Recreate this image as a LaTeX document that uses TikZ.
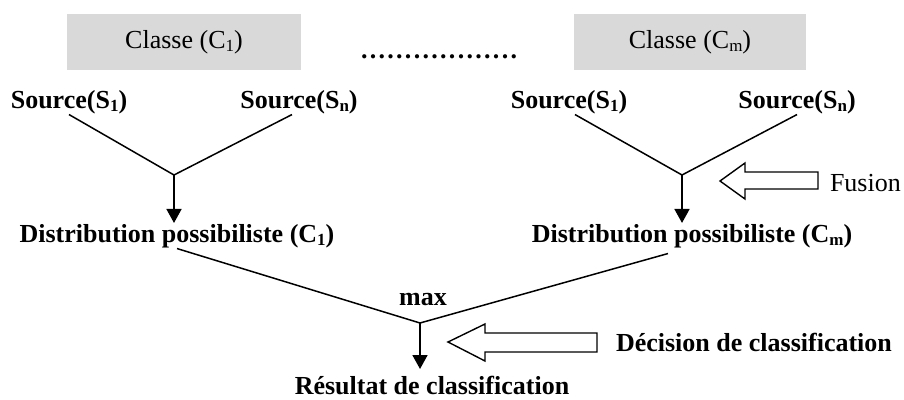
\documentclass[tikz,border=0pt]{standalone}
\usepackage{fontspec}
\setmainfont{Liberation Serif}
\usetikzlibrary{arrows.meta}
\newcommand\subtxt[1]{\raisebox{-3pt}{\fontsize{17}{17}\selectfont #1}}
\newcommand\dd{.\kern2.3pt}
\begin{document}
\begin{tikzpicture}[x=1pt,y=-1pt,
  lbl/.style={inner sep=0pt, outer sep=1pt, font=\fontsize{26}{30}\selectfont},
  blbl/.style={lbl, font=\fontsize{26}{30}\selectfont\bfseries},
  classbox/.style={fill=gray!30, minimum width=234pt, minimum height=56pt, inner sep=0pt, font=\fontsize{26}{30}\selectfont},
  edge/.style={line width=1.5pt},
  down/.style={line width=1.7pt, -{Triangle[width=15pt,length=14pt]}},
  block/.style={draw, line width=1.4pt, fill=white, line join=miter}
]
\useasboundingbox (0,0) rectangle (904,399);
% class boxes
\node[classbox] (c1) at (184,42) {Classe (C\subtxt{1})};
\node[classbox, minimum width=232pt] (cm) at (690,42) {Classe (C\subtxt{m})};
\node[blbl, anchor=base west] (dots) at (360,58) {\dd\dd\dd\dd\dd\dd\dd\dd\dd\dd\dd\dd\dd\dd\dd\dd\dd.};
% sources
\node[blbl, anchor=base] (s11) at (69,108) {Source(S\subtxt{1})};
\node[blbl, anchor=base] (s1n) at (299,108) {Source(S\subtxt{n})};
\node[blbl, anchor=base] (sm1) at (569,108) {Source(S\subtxt{1})};
\node[blbl, anchor=base] (smn) at (797,108) {Source(S\subtxt{n})};
\coordinate (f1) at (174,175);
\coordinate (fm) at (682,175);
\draw[edge] (s11.south) -- (f1) -- ([xshift=-7pt]s1n.south);
\draw[edge] ([xshift=6pt]sm1.south) -- (fm) -- (smn.south);
% distributions
\node[blbl, anchor=base] (d1) at (177,242) {Distribution possibiliste (C\subtxt{1})};
\node[blbl, anchor=base] (dm) at (692,242) {Distribution possibiliste (C\subtxt{m})};
\draw[down] (f1) -- (f1 |- d1.north);
\draw[down] (fm) -- (fm |- dm.north);
% fusion arrow
\node[lbl, anchor=base west] (fus) at (829,191) {Fusion};
\draw[block] (720,181) -- (745,163) -- (745,172) -- (818,172) -- (818,189) -- (745,189) -- (745,199) -- cycle;
% max
\coordinate (fx) at (420,323);
\draw[edge] (d1.south) -- (fx) -- ([xshift=-24pt,yshift=-5pt]dm.south);
\node[blbl, anchor=base] (max) at (423,305) {max};
\node[blbl, anchor=base] (res) at (432,394) {Résultat de classification};
\coordinate (rt) at (420,369);
\draw[down] (fx) -- (rt);
% decision arrow
\node[blbl, anchor=base west] (dec) at (615,351) {Décision de classification};
\draw[block] (448,342) -- (485,324) -- (485,333) -- (597,333) -- (597,352) -- (485,352) -- (485,361) -- cycle;
\end{tikzpicture}
\end{document}
